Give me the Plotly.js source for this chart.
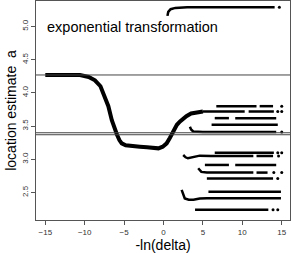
<!DOCTYPE html>
<html>
<head>
<meta charset="utf-8">
<script src="https://cdn.plot.ly/plotly-3.0.1.min.js"></script>
<style>html,body{margin:0;padding:0;background:#fff;}#plot{width:291px;height:253px;}</style>
</head>
<body>
<div id="plot"></div>
<script>
// main path of the estimate
const curveX = [-15,-12,-10.6,-9.5,-8.7,-8,-7.4,-7,-6.56,-6.2,-5.9,-5.6,-5.3,-4.8,-4.24,-3,-2.1,-1.2,-0.65,-0.1,0.4,0.8,1.24,1.7,2.1,2.9,3.5,4.2,5];
const curveY = [4.27,4.27,4.27,4.24,4.19,4.10,3.94,3.80,3.59,3.45,3.37,3.29,3.24,3.21,3.20,3.19,3.18,3.17,3.165,3.19,3.24,3.32,3.42,3.52,3.57,3.65,3.69,3.71,3.72];

// other branches
const topX = [0.5,0.6,0.9,1.5,3,14.1];
const topY = [5.16,5.22,5.26,5.28,5.29,5.29];
const r1X = [6.7,11.8,null,12.2,13.9];   const r1Y = [3.80,3.80,null,3.80,3.80];
const r2X = [5,10.3,null,10.8,14];       const r2Y = [3.72,3.72,null,3.72,3.72];
const r3X = [6.5,8.3,null,9.1,14.3];     const r3Y = [3.62,3.62,null,3.62,3.62];
const r4X = [6.1,14.5];                  const r4Y = [3.52,3.52];
const r5X = [3.35,3.5,3.77,5,14.3];      const r5Y = [3.49,3.45,3.42,3.41,3.41];
const r6X = [6.5,14];                    const r6Y = [3.10,3.10];
const r7X = [2.5,2.8,3.1,3.6,4.6,6,11.4,null,11.8,13.9];
const r7Y = [3.065,3.03,3.015,3.03,3.055,3.05,3.05,null,3.05,3.05];
const r8X = [5.25,8.3,null,9.1,14.3];    const r8Y = [2.915,2.915,null,2.915,2.915];
const r9X = [4.4,4.6,4.8,5.5,11.4,null,11.8,13.2];
const r9Y = [2.865,2.83,2.81,2.80,2.80,null,2.80,2.80];
const r10X = [5.5,13.9];                 const r10Y = [2.71,2.71];
const r11X = [5.7,14.9];                 const r11Y = [2.51,2.51];
const r12X = [2.3,2.5,2.7,3.2,3.8,4.6,5.5,14.9];
const r12Y = [2.54,2.47,2.41,2.39,2.39,2.41,2.415,2.415];
const r13X = [4.0,13.3];                 const r13Y = [2.24,2.24];

// isolated points at the right end
const dotsX = [14.7,15,14.5,15,15,14.5,15,14.6,14,15,14.5,13.9,14.5];
const dotsY = [5.29,3.80,3.72,3.72,3.41,3.10,3.10,3.05,2.80,2.80,2.71,2.24,2.24];

// reference lines
const hLines = [4.27,3.40,3.37];

const xTicks = [-15,-10,-5,0,5,10,15];
const yTicks = [2.5,3.0,3.5,4.0,4.5,5.0];
const yTickText = ['2.5','3.0','3.5','4.0','4.5','5.0'];

const branches = [[curveX,curveY,4],[topX,topY,2.5],[r1X,r1Y,2.5],[r2X,r2Y,2.5],[r3X,r3Y,2.5],[r4X,r4Y,2.5],[r5X,r5Y,2.5],
  [r6X,r6Y,2.5],[r7X,r7Y,2.5],[r8X,r8Y,2.5],[r9X,r9Y,2.5],[r10X,r10Y,2.5],[r11X,r11Y,2.5],[r12X,r12Y,2.5],[r13X,r13Y,2.5]];

const traces = branches.map(b => ({
  x: b[0], y: b[1], mode: 'lines', type: 'scatter',
  line: {color: '#000', width: b[2]}, connectgaps: false, hoverinfo: 'skip'
}));
traces.push({x: dotsX, y: dotsY, mode: 'markers', type: 'scatter',
  marker: {color: '#000', size: 3}, hoverinfo: 'skip'});

const shapes = hLines.map(v => ({type: 'line', xref: 'paper', x0: 0, x1: 1, yref: 'y', y0: v, y1: v,
  line: {color: '#444', width: 1}}));

const font = 'Liberation Sans, Arial, sans-serif';
const layout = {
  width: 291, height: 253,
  margin: {l: 36, r: 1, t: 1, b: 33},
  paper_bgcolor: '#fff', plot_bgcolor: '#fff',
  showlegend: false,
  font: {family: font, color: '#000'},
  xaxis: {range: [-16.18, 16.05], tickvals: xTicks, ticks: 'outside', ticklen: 4, tickcolor: '#555',
    showline: true, mirror: true, linecolor: '#555', linewidth: 1, showgrid: false, zeroline: false,
    tickfont: {size: 8, color: '#333', family: font},
    title: {text: '-ln(delta)', font: {size: 14, color: '#000', family: font}, standoff: 4}},
  yaxis: {range: [2.086, 5.384], tickvals: yTicks, ticktext: yTickText, tickangle: -90, ticks: 'outside', ticklen: 4,
    tickcolor: '#555', showline: true, mirror: true, linecolor: '#555', linewidth: 1, showgrid: false, zeroline: false,
    tickfont: {size: 8, color: '#333', family: font},
    title: {text: 'location estimate\u00a0 a', font: {size: 14, color: '#000', family: font}, standoff: 0}},
  shapes: shapes,
  annotations: [{x: -15, y: 5.0, xref: 'x', yref: 'y', xanchor: 'left', yanchor: 'middle', showarrow: false,
    text: 'exponential transformation', font: {size: 14.5, color: '#000', family: font}}]
};
Plotly.newPlot('plot', traces, layout, {staticPlot: true, displayModeBar: false});
</script>
</body>
</html>
